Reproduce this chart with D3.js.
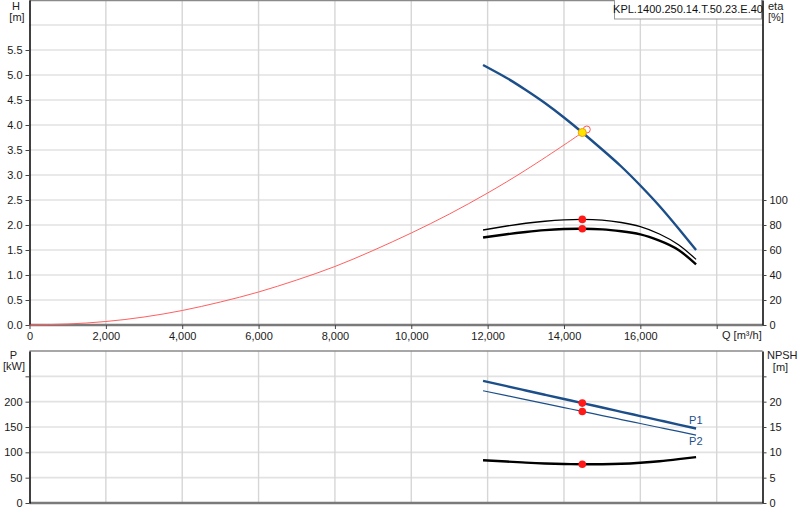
<!DOCTYPE html>
<html><head><meta charset="utf-8">
<script src="https://cdn.jsdelivr.net/npm/d3@7/dist/d3.min.js"></script>
<style>
html,body{margin:0;padding:0;background:#fff;}
svg{display:block;font-family:"Liberation Sans",Arial,sans-serif;}
</style></head>
<body>
<svg id="chart" width="800" height="520"></svg>
<script>
// ---- data ----
const qPump   = [11880, 12500, 13000, 13500, 14000, 14480, 15000, 15500, 16000, 16500, 17000, 17460];
const head    = [5.20, 4.94, 4.70, 4.44, 4.15, 3.85, 3.51, 3.17, 2.79, 2.38, 1.93, 1.50];
const etaHyd  = [76.0, 79.2, 81.4, 83.0, 84.1, 84.5, 83.9, 82.0, 78.7, 72.8, 64.2, 52.5];
const etaTot  = [70.0, 72.6, 74.4, 75.9, 76.8, 77.0, 76.5, 75.0, 72.5, 67.5, 60.0, 48.5];
const powerP1 = [241.0, 230.6, 222.1, 213.7, 205.3, 197.2, 188.5, 180.0, 171.6, 163.2, 154.7, 147.0];
const powerP2 = [221.5, 211.8, 204.0, 196.1, 188.3, 180.7, 172.6, 164.7, 156.9, 149.0, 141.2, 134.0];
const npsh    = [8.45, 8.18, 7.97, 7.80, 7.70, 7.65, 7.66, 7.74, 7.95, 8.25, 8.65, 9.05];
const qSys    = [0, 1000, 2000, 3000, 4000, 5000, 6000, 7000, 8000, 9000, 10000, 11000, 12000, 13000, 14000, 14480];
const hSys    = [0, 0.02, 0.07, 0.16, 0.29, 0.46, 0.66, 0.90, 1.17, 1.49, 1.84, 2.22, 2.64, 3.10, 3.60, 3.85];
const dutyQ   = 14480;
const dutyH   = 3.85;
const dutyEta = [84.5, 77.0];
const dutyP   = [197.2, 180.7];
const dutyNpsh = 7.65;
const qTicks  = [0, 2000, 4000, 6000, 8000, 10000, 12000, 14000, 16000, 18000];
const hTicks  = [0, 0.5, 1.0, 1.5, 2.0, 2.5, 3.0, 3.5, 4.0, 4.5, 5.0, 5.5];
const hGrid   = [0.5, 1.0, 1.5, 2.0, 2.5, 3.0, 3.5, 4.0, 4.5, 5.0, 5.5, 6.0];
const etaTicks = [0, 20, 40, 60, 80, 100];
const pTicks  = [0, 50, 100, 150, 200, 250];
const npshTicks = [0, 5, 10, 15, 20, 25];
const title = "KPL.1400.250.14.T.50.23.E.40";

// ---- layout ----
const L = 29.5, R = 762.5;
const topT = 0.5, topB = 325;
const botT = 351, botB = 503;
const blue = "#1c4f8a";
const svg = d3.select("#chart");

const x = d3.scaleLinear([0, 19200], [L, R]);
const yH = d3.scaleLinear([0, 6.5], [topB, 0]);
const yEta = d3.scaleLinear([0, 260], [topB, 0]);
const yP = d3.scaleLinear([0, 300], [botB, botT]);
const yN = d3.scaleLinear([0, 30], [botB, botT]);

function grid(yScale, vals, y0, y1) {
  const g = svg.append("g");
  g.selectAll(".hg").data(vals).join("line")
    .attr("x1", L).attr("x2", R)
    .attr("y1", d => yScale(d)).attr("y2", d => yScale(d))
    .attr("stroke", "#e2e2e2").attr("stroke-width", 1.6);
  g.selectAll(".vg").data(qTicks.filter(d => d > 0)).join("line")
    .attr("x1", d => x(d)).attr("x2", d => x(d))
    .attr("y1", y0).attr("y2", y1)
    .attr("stroke", "#d6d6d6").attr("stroke-width", 1.4);
}
grid(yH, hGrid, topT, topB);
grid(yP, [50, 100, 150, 200, 250], botT, botB);

// frames
function frame(t, b) {
  svg.append("line").attr("x1", L).attr("x2", R).attr("y1", t).attr("y2", t)
    .attr("stroke", "#8a8a8a").attr("stroke-width", 1.5);
  svg.append("line").attr("x1", L).attr("x2", R).attr("y1", b).attr("y2", b)
    .attr("stroke", "#7a7a7a").attr("stroke-width", 2.5);
}
frame(topT, topB);
frame(botT, botB);

const tickFont = 11;
function styleAxis(g, lineColor) {
  g.selectAll("text").attr("font-size", tickFont).attr("fill", "#1a1a1a")
    .attr("font-family", "Liberation Sans, Arial, sans-serif");
  g.select(".domain").attr("stroke", lineColor).attr("stroke-width", 1.5);
  g.selectAll(".tick line").attr("stroke", "#444");
}

// top axes
svg.append("g").attr("transform", `translate(${L},0)`)
  .call(d3.axisLeft(yH).tickValues(hTicks).tickFormat(d3.format(".1f")).tickSize(4).tickPadding(3).tickSizeOuter(0))
  .call(g => styleAxis(g, "#000"));
svg.append("g").attr("transform", `translate(${R},0)`)
  .call(d3.axisRight(yEta).tickValues(etaTicks).tickSize(4).tickPadding(3).tickSizeOuter(0))
  .call(g => styleAxis(g, "#000"));
svg.append("g").attr("transform", `translate(0,${topB})`)
  .call(d3.axisBottom(x).tickValues(qTicks).tickSize(4).tickPadding(3).tickSizeOuter(0)
    .tickFormat(d => d === 18000 ? "" : d3.format(",")(d)))
  .call(g => { styleAxis(g, "#7a7a7a"); g.select(".domain").remove(); });

// bottom axes
svg.append("g").attr("transform", `translate(${L},0)`)
  .call(d3.axisLeft(yP).tickValues(pTicks).tickFormat(d => d === 250 ? "" : d).tickSize(4).tickPadding(3).tickSizeOuter(0))
  .call(g => styleAxis(g, "#000"));
svg.append("g").attr("transform", `translate(${R},0)`)
  .call(d3.axisRight(yN).tickValues(npshTicks).tickFormat(d => d === 25 ? "" : d).tickSize(4).tickPadding(3).tickSizeOuter(0))
  .call(g => styleAxis(g, "#000"));

// axis titles
function label(txt, xx, yy, anchor) {
  svg.append("text").attr("x", xx).attr("y", yy).attr("text-anchor", anchor || "middle")
    .attr("font-size", 11).attr("fill", "#222").text(txt);
}
label("H", 16, 10);
label("[m]", 17, 21);
label("eta", 768, 10, "start");
label("[%]", 768, 21, "start");
label("P", 13.5, 359);
label("[kW]", 14, 370);
label("NPSH", 767, 359, "start");
label("[m]", 780.5, 370.5);
label("Q [m³/h]", 722, 339, "start");

// title box
const tb = svg.append("g");
tb.append("rect").attr("x", 614.5).attr("y", -1).attr("width", 147).attr("height", 20)
  .attr("fill", "#fff").attr("stroke", "#999").attr("stroke-width", 1);
tb.append("text").attr("x", 688).attr("y", 13).attr("text-anchor", "middle")
  .attr("font-size", 11).attr("fill", "#111").text(title);

// curves
const pump = qPump.map((q, i) => ({ q, h: head[i], e1: etaHyd[i], e2: etaTot[i], p1: powerP1[i], p2: powerP2[i], n: npsh[i] }));
const sys = qSys.map((q, i) => ({ q, h: hSys[i] }));
function path(data, yScale, key, color, w) {
  svg.append("path").datum(data)
    .attr("d", d3.line().x(d => x(d.q)).y(d => yScale(d[key])).curve(d3.curveNatural))
    .attr("fill", "none").attr("stroke", color).attr("stroke-width", w)
    .attr("stroke-linejoin", "round");
}
path(sys, yH, "h", "#ff6060", 1);
path(pump, yEta, "e1", "#000", 1.3);
path(pump, yEta, "e2", "#000", 2.4);
path(pump, yH, "h", blue, 2.4);
path(pump, yP, "p1", blue, 2.4);
path(pump, yP, "p2", blue, 1.2);
path(pump, yN, "n", "#000", 2.4);

// P1 / P2 labels
const lastQ = qPump[qPump.length - 1];
svg.append("text").attr("x", x(lastQ) - 7).attr("y", yP(powerP1[powerP1.length - 1]) - 5)
  .attr("font-size", 11).attr("fill", blue).text("P1");
svg.append("text").attr("x", x(lastQ) - 7).attr("y", yP(powerP2[powerP2.length - 1]) + 10)
  .attr("font-size", 11).attr("fill", blue).text("P2");

// duty point markers
const dots = [
  [yEta(dutyEta[0])], [yEta(dutyEta[1])], [yP(dutyP[0])], [yP(dutyP[1])], [yN(dutyNpsh)]
];
svg.selectAll(".dp").data(dots).join("circle")
  .attr("cx", x(dutyQ)).attr("cy", d => d[0]).attr("r", 3.8)
  .attr("fill", "#ff1a1a").attr("stroke", "none");
svg.append("circle").attr("cx", x(dutyQ)).attr("cy", yH(dutyH)).attr("r", 3.5)
  .attr("transform", "translate(4.5,-3)")
  .attr("fill", "none").attr("stroke", "#ff5555").attr("stroke-width", 1);
svg.append("circle").attr("cx", x(dutyQ)).attr("cy", yH(dutyH)).attr("r", 4)
  .attr("fill", "#ffe600").attr("stroke", "#f0a000").attr("stroke-width", 1);
</script>
</body></html>
